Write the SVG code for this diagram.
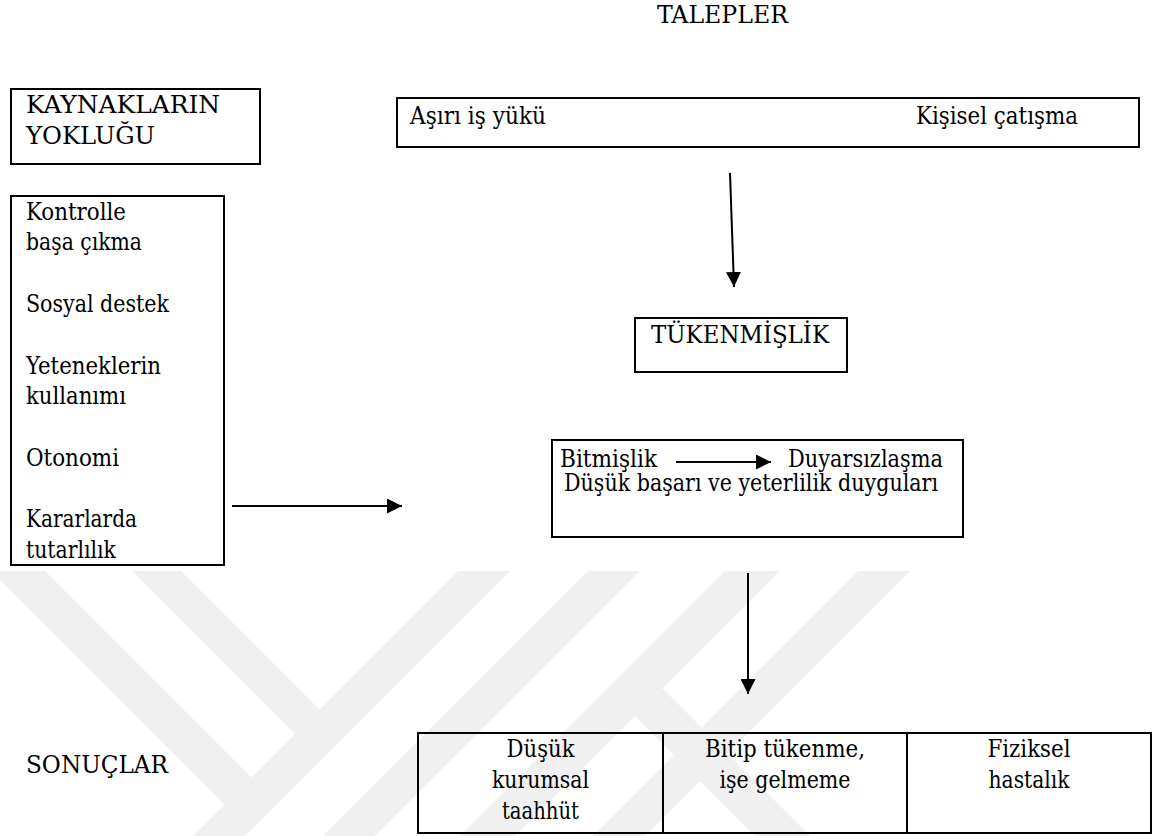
<svg xmlns="http://www.w3.org/2000/svg" width="1155" height="836" viewBox="0 0 1155 836">
<style>
.t{font-family:"DejaVu Serif Condensed", "DejaVu Serif", serif;font-stretch:condensed;font-size:24px;fill:#000}
.c{text-anchor:middle}
.box{fill:none;stroke:#000;stroke-width:2}
.ln{stroke:#000;stroke-width:2;fill:none}
.wm{fill:#f0f0f0}
</style>
<defs>
<marker id="ah" markerWidth="15" markerHeight="15" refX="15" refY="7.5" orient="auto" markerUnits="userSpaceOnUse">
<path d="M0,0 L15,7.5 L0,15 z" fill="#000"/>
</marker>
</defs>
<rect width="1155" height="836" fill="#fff"/>
<g id="watermark">
<polygon class="wm" points="0,571 45,571 251.5,777.5 224.5,804.5 0,580"/>
<polygon class="wm" points="132,571 181,571 319.5,709.5 295,734"/>
<polygon class="wm" points="458,571 510,571 245,836 193,836"/>
<polygon class="wm" points="588,571 640,571 375,836 323,836"/>
<polygon class="wm" points="725,571 780,571 515,836 460,836"/>
<polygon class="wm" points="858,571 910,571 645,836 593,836"/>
<polygon class="wm" points="662.5,688.5 810,836 755,836 635,716"/>
</g>
<g id="talepler-label"><text class="t" x="657" y="23" textLength="131" lengthAdjust="spacingAndGlyphs">TALEPLER</text></g>
<g id="talepler">
<rect class="box" x="397" y="98" width="742" height="49"/>
<text class="t" x="410" y="124" textLength="136" lengthAdjust="spacingAndGlyphs">Aşırı iş yükü</text>
<text class="t" x="916" y="124" textLength="162" lengthAdjust="spacingAndGlyphs">Kişisel çatışma</text>
</g>
<g id="kaynaklarin-yoklugu">
<rect class="box" x="11" y="89" width="249" height="75"/>
<text class="t" x="26" y="113" textLength="194" lengthAdjust="spacingAndGlyphs">KAYNAKLARIN</text>
<text class="t" x="26" y="144" textLength="129" lengthAdjust="spacingAndGlyphs">YOKLUĞU</text>
</g>
<g id="kaynaklar">
<rect class="box" x="11" y="196" width="213" height="369"/>
<text class="t" x="26" y="220" textLength="100" lengthAdjust="spacingAndGlyphs">Kontrolle</text>
<text class="t" x="26" y="250" textLength="116" lengthAdjust="spacingAndGlyphs">başa çıkma</text>
<text class="t" x="26" y="312" textLength="143" lengthAdjust="spacingAndGlyphs">Sosyal destek</text>
<text class="t" x="26" y="374" textLength="135" lengthAdjust="spacingAndGlyphs">Yeteneklerin</text>
<text class="t" x="26" y="404" textLength="100" lengthAdjust="spacingAndGlyphs">kullanımı</text>
<text class="t" x="26" y="466" textLength="93" lengthAdjust="spacingAndGlyphs">Otonomi</text>
<text class="t" x="26" y="527" textLength="111" lengthAdjust="spacingAndGlyphs">Kararlarda</text>
<text class="t" x="26" y="558" textLength="90" lengthAdjust="spacingAndGlyphs">tutarlılık</text>
</g>
<g id="tukenmislik">
<rect class="box" x="635" y="318" width="212" height="54"/>
<text class="t" x="651" y="343" textLength="178" lengthAdjust="spacingAndGlyphs">TÜKENMİŞLİK</text>
</g>
<g id="boyutlar">
<rect class="box" x="552" y="440" width="411" height="97"/>
<text class="t" x="560" y="467" textLength="97" lengthAdjust="spacingAndGlyphs">Bitmişlik</text>
<line class="ln" x1="676" y1="462" x2="771" y2="462" marker-end="url(#ah)"/>
<text class="t" x="788" y="467" textLength="155" lengthAdjust="spacingAndGlyphs">Duyarsızlaşma</text>
<text class="t" x="564" y="491" textLength="374" lengthAdjust="spacingAndGlyphs">Düşük başarı ve yeterlilik duyguları</text>
</g>
<g id="sonuclar-label"><text class="t" x="26" y="773" textLength="142" lengthAdjust="spacingAndGlyphs">SONUÇLAR</text></g>
<g id="sonuclar">
<rect class="box" x="418" y="733" width="733" height="100"/>
<line class="ln" x1="663" y1="733" x2="663" y2="833"/>
<line class="ln" x1="907" y1="733" x2="907" y2="833"/>
<text class="t c" x="540.5" y="757" textLength="68" lengthAdjust="spacingAndGlyphs">Düşük</text>
<text class="t c" x="540.5" y="788" textLength="97" lengthAdjust="spacingAndGlyphs">kurumsal</text>
<text class="t c" x="540.5" y="819" textLength="77" lengthAdjust="spacingAndGlyphs">taahhüt</text>
<text class="t c" x="785" y="757" textLength="160" lengthAdjust="spacingAndGlyphs">Bitip tükenme,</text>
<text class="t c" x="785" y="788" textLength="131" lengthAdjust="spacingAndGlyphs">işe gelmeme</text>
<text class="t c" x="1029" y="757" textLength="83" lengthAdjust="spacingAndGlyphs">Fiziksel</text>
<text class="t c" x="1029" y="788" textLength="81" lengthAdjust="spacingAndGlyphs">hastalık</text>
</g>
<g id="connectors">
<line class="ln" x1="730" y1="173" x2="734" y2="287" marker-end="url(#ah)"/>
<line class="ln" x1="232" y1="506" x2="402" y2="506" marker-end="url(#ah)"/>
<line class="ln" x1="748" y1="573" x2="748" y2="694" marker-end="url(#ah)"/>
</g>
</svg>
